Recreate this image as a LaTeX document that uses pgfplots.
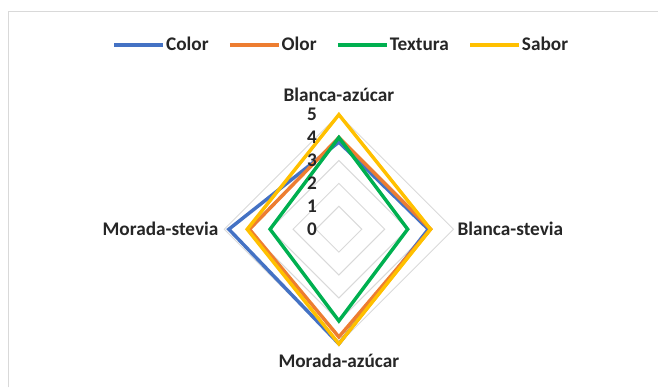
\documentclass[border=0pt]{standalone}
\usepackage{fontspec}
\setmainfont{Carlito}
\usepackage{pgfplots}
\pgfplotsset{compat=1.18}

\definecolor{cColor}{HTML}{4472C4}
\definecolor{cOlor}{HTML}{ED7D31}
\definecolor{cTextura}{HTML}{00B050}
\definecolor{cSabor}{HTML}{FFC000}
\definecolor{cGrid}{HTML}{D9D9D9}
\definecolor{cText}{HTML}{262626}

% radar with 4 spokes: top = Blanca-azucar, right = Blanca-stevia,
% bottom = Morada-azucar, left = Morada-stevia
\begin{document}
\begin{tikzpicture}
\begin{axis}[
  x=17.25pt, y=17.25pt,
  xmin=-14.783, xmax=13.826, ymin=-6.826, ymax=10,
  hide axis, clip=false,
  line join=miter,
  legend columns=4,
  legend style={at={(axis cs:0.09,8.04)}, anchor=center, draw=none, fill=none,
    font=\bfseries\fontsize{14.5}{16}\selectfont, text=cText, inner sep=0pt,
    nodes={inner sep=0.8pt},
    /tikz/every odd column/.append style={column sep=0pt},
    /tikz/every even column/.append style={column sep=14pt}},
  legend image code/.code={\draw[#1, line width=2.4pt] (0pt,0pt) -- (37pt,0pt);},
]
\path (axis cs:-14.783,-6.826) rectangle (axis cs:13.826,10);
\draw[cGrid, line width=0.75pt] (axis cs:-14.43,-6.9) -- (axis cs:-14.43,9.48) -- (axis cs:13.9,9.48);

% grid diamonds
\addplot[cGrid, line width=0.75pt, forget plot] coordinates {(0,1) (1,0) (0,-1) (-1,0) (0,1) (1,0)};
\addplot[cGrid, line width=0.75pt, forget plot] coordinates {(0,2) (2,0) (0,-2) (-2,0) (0,2) (2,0)};
\addplot[cGrid, line width=0.75pt, forget plot] coordinates {(0,3) (3,0) (0,-3) (-3,0) (0,3) (3,0)};
\addplot[cGrid, line width=0.75pt, forget plot] coordinates {(0,4) (4,0) (0,-4) (-4,0) (0,4) (4,0)};
\addplot[cGrid, line width=0.75pt, forget plot] coordinates {(0,5) (5,0) (0,-5) (-5,0) (0,5) (5,0)};

% series
\addplot[cColor, line width=2.6pt] coordinates {(0,3.8) (3.9,0) (0,-5) (-4.8,0) (0,3.8) (3.9,0)};
\addlegendentry{Color}
\addplot[cOlor, line width=2.6pt] coordinates {(0,4) (4,0) (0,-4.7) (-3.9,0) (0,4) (4,0)};
\addlegendentry{Olor}
\addplot[cTextura, line width=2.6pt] coordinates {(0,4) (3,0) (0,-4) (-3,0) (0,4) (3,0)};
\addlegendentry{Textura}
\addplot[cSabor, line width=2.6pt] coordinates {(0,5) (4,0) (0,-5) (-4,0) (0,5) (4,0)};
\addlegendentry{Sabor}

% scale labels
\foreach \v in {0,...,5} {
  \edef\temp{\noexpand\node[font=\noexpand\bfseries\noexpand\fontsize{14.5}{16}\noexpand\selectfont, text=cText, inner sep=0pt] at (axis cs:-1.17,\v) {\v};}
  \temp
}

% category labels
\node[font=\bfseries\fontsize{14.5}{16}\selectfont, text=cText] at (axis cs:0,5.87) {Blanca-azúcar};
\node[font=\bfseries\fontsize{14.5}{16}\selectfont, text=cText] at (axis cs:7.48,0) {Blanca-stevia};
\node[font=\bfseries\fontsize{14.5}{16}\selectfont, text=cText] at (axis cs:0,-5.74) {Morada-azúcar};
\node[font=\bfseries\fontsize{14.5}{16}\selectfont, text=cText] at (axis cs:-7.78,0) {Morada-stevia};
\end{axis}
\end{tikzpicture}
\end{document}
